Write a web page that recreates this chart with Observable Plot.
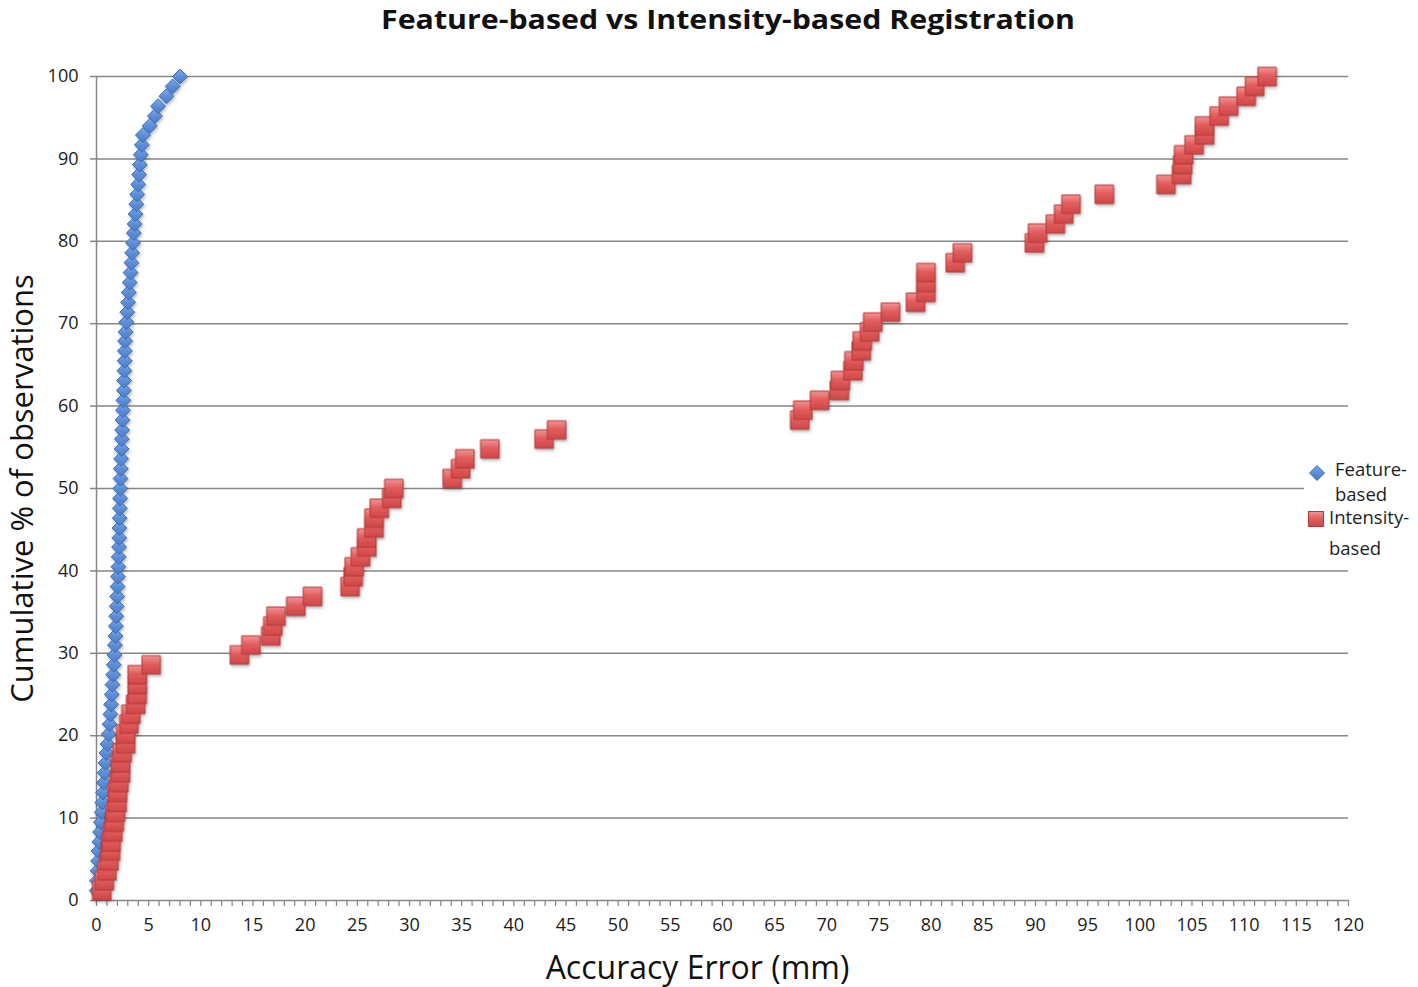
<!DOCTYPE html>
<html>
<head>
<meta charset="utf-8">
<script src="https://cdn.jsdelivr.net/npm/d3@7"></script>
<script src="https://cdn.jsdelivr.net/npm/@observablehq/plot@0.6"></script>
<style>
  body { margin: 0; background: #fff; font-family: "Open Sans", sans-serif; }
  #wrap { position: relative; width: 1418px; height: 987px; overflow: hidden; }
  #titlebox { position: absolute; left: 0; top: 0; }
  #chart { position: absolute; left: 0; top: 40px; }
  #legend { position: absolute; left: 1304px; top: 452px; width: 114px; height: 118px; background: #fff; color: #1e1e1e; font-size: 18.5px; }
  #legend .t { position: absolute; line-height: 22px; white-space: nowrap; }
  #legend svg { position: absolute; overflow: visible; }
</style>
</head>
<body>
<svg width="0" height="0" style="position:absolute">
  <defs>
    <linearGradient id="gBlue" x1="0" y1="0" x2="0" y2="1">
      <stop offset="0" stop-color="#7eaae6"/>
      <stop offset="0.5" stop-color="#5d8fd8"/>
      <stop offset="1" stop-color="#4a7cc8"/>
    </linearGradient>
    <linearGradient id="gRed" x1="0" y1="0" x2="0" y2="1">
      <stop offset="0" stop-color="#f29494"/>
      <stop offset="0.45" stop-color="#e25e5e"/>
      <stop offset="1" stop-color="#cf4646"/>
    </linearGradient>
  </defs>
</svg>
<div id="wrap">
  <svg id="titlebox" width="1418" height="40">
    <text x="728" y="29" text-anchor="middle" font-family="'Open Sans', sans-serif" font-weight="700" font-size="27.5" fill="#111" textLength="694" lengthAdjust="spacingAndGlyphs">Feature-based vs Intensity-based Registration</text>
  </svg>
  <div id="chart"></div>
  <div id="legend">
    <svg style="left:13px;top:21px" width="1" height="1"><path d="M0,-7.5L7.5,0L0,7.5L-7.5,0Z" fill="url(#gBlue)" stroke="#3b6db3" stroke-width="1"/></svg>
    <span class="t" style="left:31px;top:6px">Feature-</span>
    <span class="t" style="left:31px;top:31px">based</span>
    <svg style="left:12px;top:67px" width="1" height="1"><rect x="-7.5" y="-7.5" width="15" height="15" fill="url(#gRed)" stroke="#b43a3a" stroke-width="1"/></svg>
    <span class="t" style="left:25px;top:54px">Intensity-</span>
    <span class="t" style="left:25px;top:85px">based</span>
  </div>
</div>
<script>
// ---- Data ----
const seriesNames = ["Feature-based", "Intensity-based"];

// Cumulative % of observations (84 observations per method)
const cumulativePct = [
  1.2, 2.4, 3.6, 4.8, 6.0, 7.1, 8.3, 9.5, 10.7, 11.9,
  13.1, 14.3, 15.5, 16.7, 17.9, 19.0, 20.2, 21.4, 22.6, 23.8,
  25.0, 26.2, 27.4, 28.6, 29.8, 31.0, 32.1, 33.3, 34.5, 35.7,
  36.9, 38.1, 39.3, 40.5, 41.7, 42.9, 44.0, 45.2, 46.4, 47.6,
  48.8, 50.0, 51.2, 52.4, 53.6, 54.8, 56.0, 57.1, 58.3, 59.5,
  60.7, 61.9, 63.1, 64.3, 65.5, 66.7, 67.9, 69.0, 70.2, 71.4,
  72.6, 73.8, 75.0, 76.2, 77.4, 78.6, 79.8, 81.0, 82.1, 83.3,
  84.5, 85.7, 86.9, 88.1, 89.3, 90.5, 91.7, 92.9, 94.0, 95.2,
  96.4, 97.6, 98.8, 100.0
];

// Accuracy error (mm), feature-based registration (sorted)
const featureError = [
  0.02, 0.05, 0.10, 0.15, 0.20, 0.27, 0.34, 0.42, 0.50, 0.56,
  0.63, 0.70, 0.78, 0.86, 0.95, 1.05, 1.18, 1.26, 1.33, 1.40,
  1.46, 1.53, 1.60, 1.66, 1.72, 1.77, 1.82, 1.86, 1.90, 1.94,
  1.98, 2.02, 2.06, 2.10, 2.13, 2.16, 2.18, 2.20, 2.22, 2.24,
  2.26, 2.28, 2.30, 2.33, 2.36, 2.40, 2.43, 2.46, 2.50, 2.54,
  2.58, 2.62, 2.65, 2.68, 2.70, 2.72, 2.74, 2.79, 2.86, 2.95,
  3.03, 3.10, 3.18, 3.27, 3.35, 3.42, 3.50, 3.58, 3.66, 3.74,
  3.82, 3.90, 4.00, 4.08, 4.15, 4.25, 4.35, 4.45, 5.10, 5.60,
  5.90, 6.70, 7.30, 8.00
];

// Accuracy error (mm), intensity-based registration (sorted)
const intensityError = [
  0.50, 0.75, 1.00, 1.20, 1.34, 1.40, 1.55, 1.70, 1.82, 1.98,
  2.00, 2.15, 2.30, 2.30, 2.46, 2.78, 2.80, 3.10, 3.30, 3.75,
  3.90, 3.90, 3.90, 5.24, 13.7, 14.8, 16.7, 16.9, 17.2, 19.1,
  20.7, 24.3, 24.6, 24.7, 25.3, 25.9, 25.9, 26.6, 26.6, 27.1,
  28.3, 28.5, 34.1, 34.9, 35.3, 37.7, 42.9, 44.1, 67.4, 67.7,
  69.3, 71.2, 71.3, 72.5, 72.6, 73.3, 73.4, 74.1, 74.4, 76.1,
  78.5, 79.5, 79.5, 79.5, 82.3, 83.0, 89.9, 90.2, 91.9, 92.7,
  93.4, 96.6, 102.5, 104.0, 104.1, 104.2, 105.2, 106.2, 106.2, 107.6,
  108.5, 110.2, 111.0, 112.2
];

const yTicks = [0, 10, 20, 30, 40, 50, 60, 70, 80, 90, 100];
const xTickLabels = [0, 5, 10, 15, 20, 25, 30, 35, 40, 45, 50, 55, 60, 65, 70, 75, 80, 85, 90, 95, 100, 105, 110, 115, 120];
const xMinorTicks = d3.range(0, 121, 1);
const xTitle = "Accuracy Error (mm)";
const yTitle = "Cumulative % of observations";

const featureData = featureError.map((e, i) => ({error: e, pct: cumulativePct[i], method: seriesNames[0]}));
const intensityData = intensityError.map((e, i) => ({error: e, pct: cumulativePct[i], method: seriesNames[1]}));

const gridColor = "#868686";

const chart = Plot.plot({
  width: 1418,
  height: 947,
  marginLeft: 96,
  marginRight: 70,
  marginTop: 36,
  marginBottom: 87,
  x: {domain: [0, 120]},
  y: {domain: [0, 100]},
  style: {fontFamily: "'Open Sans', sans-serif", fontSize: "18px", color: "#222", background: "transparent", overflow: "visible"},
  marks: [
    Plot.ruleY(yTicks, {stroke: gridColor, strokeWidth: 1.5}),
    Plot.ruleX([0], {stroke: gridColor, strokeWidth: 1.5}),
    Plot.axisY({ticks: yTicks, tickSize: 6, tickPadding: 12, label: null, stroke: gridColor, fill: "#1a1a1a", strokeWidth: 1.5}),
    Plot.axisX({ticks: xMinorTicks, tickSize: 6, tickPadding: 12, label: null, stroke: gridColor, fill: "#1a1a1a", strokeWidth: 1.2,
      tickFormat: d => xTickLabels.includes(d) ? String(d) : ""}),
    Plot.text([yTitle], {frameAnchor: "left", textAnchor: "middle", lineAnchor: "middle", rotate: -90, dx: -73, fontSize: 31, fill: "#111"}),
    Plot.text([xTitle], {frameAnchor: "bottom", textAnchor: "middle", lineAnchor: "middle", dx: -25, dy: 68, fontSize: 32, fill: "#111"}),
    Plot.dot(featureData, {x: "error", y: "pct", symbol: "diamond2", r: 6.7, fill: "url(#gBlue)", stroke: "#3b6db3", strokeWidth: 1}),
    Plot.dot(intensityData, {x: "error", y: "pct", symbol: "square", r: 10.4, fill: "url(#gRed)", stroke: "#b43a3a", strokeWidth: 1})
  ]
});

chart.querySelectorAll('g[aria-label="dot"]').forEach(g => {
  g.style.filter = "drop-shadow(1px 2px 1.5px rgba(0,0,0,0.28))";
});

document.getElementById("chart").appendChild(chart);
</script>
</body>
</html>
